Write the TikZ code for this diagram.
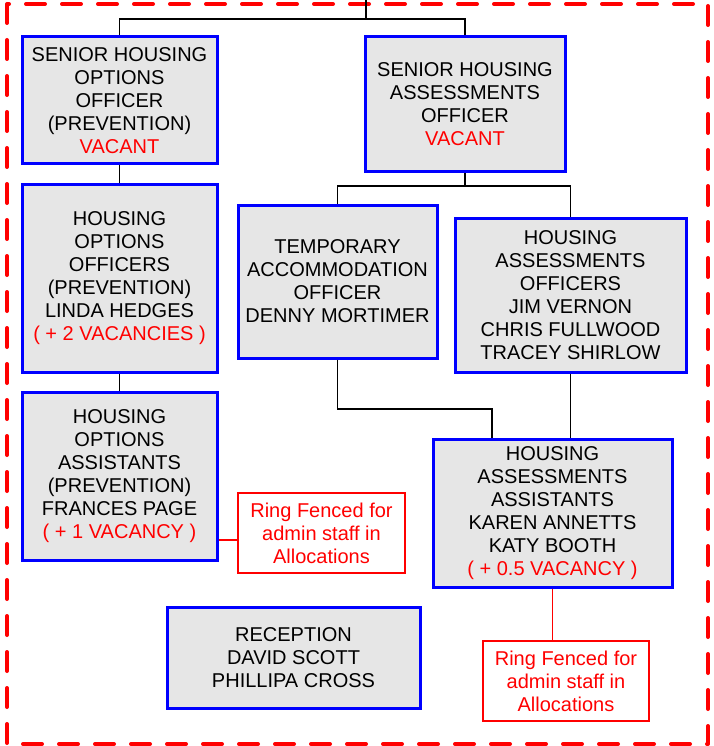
\documentclass[tikz,border=0pt]{standalone}
\usepackage{fontspec}
\setmainfont{Liberation Sans}
\definecolor{boxgray}{HTML}{E6E6E6}
\definecolor{boxblue}{HTML}{0000FF}
\definecolor{alertred}{HTML}{FF0000}
\begin{document}
\begin{tikzpicture}[x=1pt,y=-1pt,
  every node/.style={font=\fontsize{20pt}{23pt}\selectfont, align=center, inner sep=0pt},
  post/.style={draw=boxblue, line width=3pt, fill=boxgray, text=black},
  fence/.style={draw=alertred, line width=1.5pt, fill=white, text=alertred},
  link/.style={draw=black, line width=1.5pt},
  redlink/.style={draw=alertred, line width=1.5pt},
  frame/.style={draw=alertred, line width=4pt, line cap=round, line join=round, dash pattern=on 19pt off 17pt}]
\useasboundingbox (0,0) rectangle (713,746);

% outer dashed frame
\draw[frame] (7,4) rectangle (708,744);

% posts
\node[post, minimum width=195, minimum height=127] (sho) at (119.5,100.5)
  {SENIOR HOUSING\\OPTIONS\\OFFICER\\(PREVENTION)\\\textcolor{alertred}{VACANT}};
\node[post, minimum width=200, minimum height=135] (sha) at (465,104.5)
  {SENIOR HOUSING\\ASSESSMENTS\\OFFICER\\\textcolor{alertred}{VACANT}};
\node[post, minimum width=195, minimum height=188] (hoo) at (119.5,278)
  {HOUSING\\OPTIONS\\OFFICERS\\(PREVENTION)\\LINDA HEDGES\\\textcolor{alertred}{( + 2 VACANCIES )}};
\node[post, minimum width=199, minimum height=153] (tao) at (337.5,281.5)
  {TEMPORARY\\ACCOMMODATION\\OFFICER\\DENNY MORTIMER};
\node[post, minimum width=231, minimum height=154] (hao) at (570.5,295)
  {HOUSING\\ASSESSMENTS\\OFFICERS\\JIM VERNON\\CHRIS FULLWOOD\\TRACEY SHIRLOW};
\node[post, minimum width=195, minimum height=168] (hoa) at (119.5,476)
  {HOUSING\\OPTIONS\\ASSISTANTS\\(PREVENTION)\\FRANCES PAGE\\\textcolor{alertred}{( + 1 VACANCY )}};
\node[post, minimum width=239, minimum height=148] (haa) at (552.5,513)
  {HOUSING\\ASSESSMENTS\\ASSISTANTS\\KAREN ANNETTS\\KATY BOOTH\\\textcolor{alertred}{( + 0.5 VACANCY )}};
\node[post, minimum width=253, minimum height=101] (rec) at (293.5,657.5)
  {RECEPTION\\DAVID SCOTT\\PHILLIPA CROSS};

% ring fenced notes
\node[fence, minimum width=167, minimum height=80] (rf1) at (321.5,533)
  {Ring Fenced for\\admin staff in\\Allocations};
\node[fence, minimum width=166, minimum height=80] (rf2) at (566,681)
  {Ring Fenced for\\admin staff in\\Allocations};

% reporting lines
\coordinate (top) at (366,0);
\coordinate (jt) at (366,19);
\coordinate (j2) at (465,186);
\coordinate (j3) at (492,409);
\draw[link] (top) -- (jt);
\draw[link] (sho.north) |- (jt) -| (sha.north);
\draw[link] (sho.south) -- (hoo.north);
\draw[link] (hoo.south) -- (hoa.north);
\draw[link] (sha.south) -- (j2);
\draw[link] (tao.north) |- (j2) -| (hao.north);
\draw[link] (tao.south) |- (j3) -- (j3 |- haa.north);
\draw[link] (hao.south) -- (hao.south |- haa.north);

% note links
\draw[redlink] ([yshift=-7pt]rf1.west) -- ([yshift=-7pt]rf1.west -| hoa.east);
\draw[redlink] (haa.south) -- (haa.south |- rf2.north);
\end{tikzpicture}
\end{document}
